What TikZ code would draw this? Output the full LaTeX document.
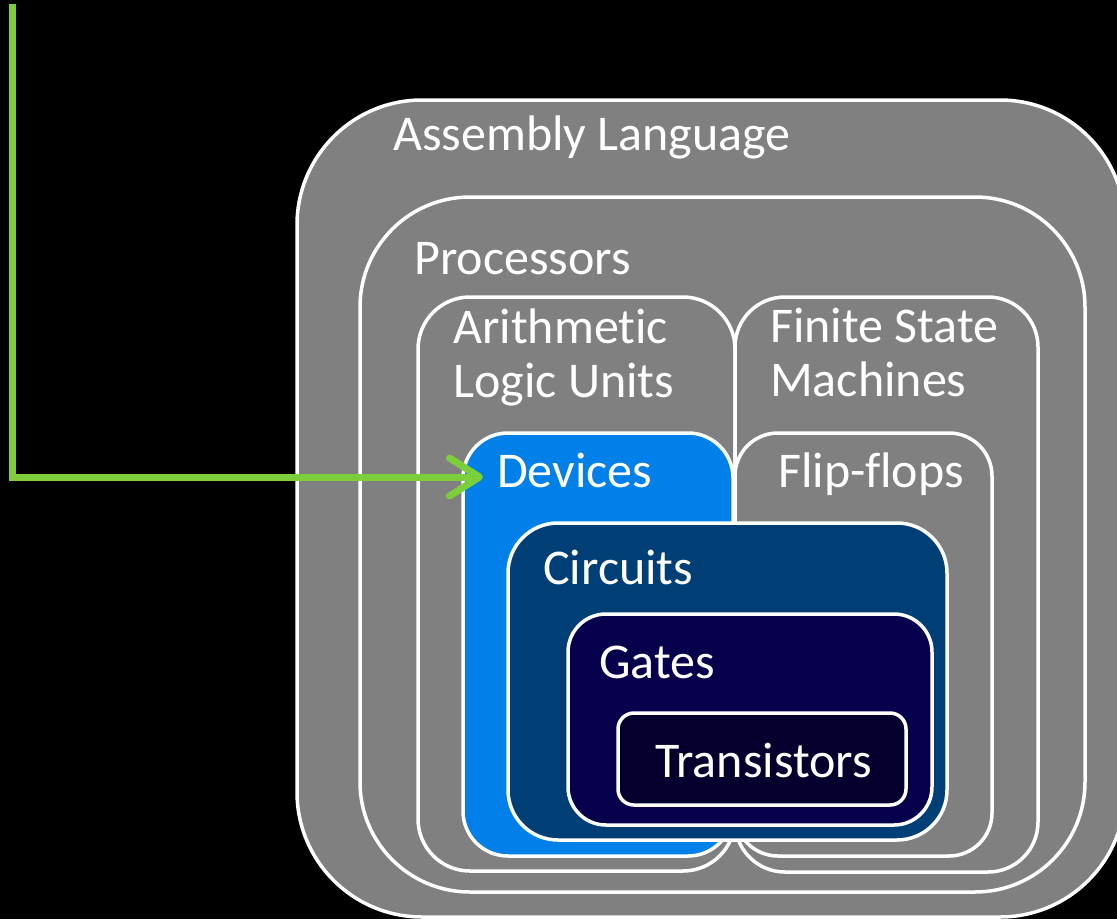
\documentclass[tikz,border=0pt]{standalone}
\usepackage{fontspec}
\setmainfont[Ligatures={NoCommon,NoContextual,NoRare}]{Carlito}
\usetikzlibrary{arrows.meta}
\definecolor{layergray}{RGB}{128,128,128}
\definecolor{devblue}{RGB}{0,128,232}
\definecolor{circblue}{RGB}{0,63,117}
\definecolor{gatenavy}{RGB}{6,0,76}
\definecolor{transnavy}{RGB}{3,0,46}
\definecolor{linkgreen}{RGB}{124,206,58}
\begin{document}
\begin{tikzpicture}[x=1pt,y=-1pt,
  layer/.style={draw=white, line width=3.5pt},
  lbl/.style={text=white, anchor=base west, inner sep=0pt, align=left,
              font=\fontsize{50}{53.5}\selectfont},
  link/.style={draw=linkgreen, line width=7pt,
               -{Straight Barb[length=30pt,width=38pt,line cap=round,line join=round]}}
]
% canvas
\fill[black] (0,0) rectangle (1117,919);
\useasboundingbox (0,0) rectangle (1117,919);
\clip (0,0) rectangle (1117,919);

% nested abstraction layers, outermost first
\draw[layer, fill=layergray, rounded corners=125pt] (297,100) rectangle (1125,917);
\draw[layer, fill=layergray, rounded corners=110pt] (360,197) rectangle (1085,892);
\draw[layer, fill=layergray, rounded corners=52pt]  (418,297) rectangle (735,871);
\draw[layer, fill=layergray, rounded corners=50pt]  (735,297) rectangle (1038,872);
\draw[layer, fill=devblue,   rounded corners=45pt]  (463,433) rectangle (733,856);
\draw[layer, fill=layergray, rounded corners=43pt]  (735,433) rectangle (992,856);
\draw[layer, fill=circblue,  rounded corners=50pt]  (508,523) rectangle (947,840);
\draw[layer, fill=gatenavy,  rounded corners=38pt]  (568,614) rectangle (932,825);
\draw[layer, fill=transnavy, rounded corners=16pt]  (618,713) rectangle (906,805);

% layer names (two-line names sit on the baseline of their last line)
\node[lbl] (asm)   at (393,150) {Assembly Language};
\node[lbl] (proc)  at (414,274) {Processors};
\node[lbl] (alu)   at (453,397) {Arithmetic\\Logic Units};
\node[lbl] (fsm)   at (770,396) {Finite State\\Machines};
\node[lbl] (devlbl) at (497,487) {Devices};
\node[lbl] (ff)    at (778,487) {Flip-flops};
\node[lbl] (circ)  at (543,584) {Circuits};
\node[lbl] (gates) at (599,678) {Gates};
\node[lbl] (trans) at (655,777) {Transistors};

% pointer into the devices layer
\coordinate (feed) at (12,4);
\draw[link] (feed) |- ([xshift=-14pt,yshift=10pt]devlbl.base west);
\end{tikzpicture}
\end{document}
